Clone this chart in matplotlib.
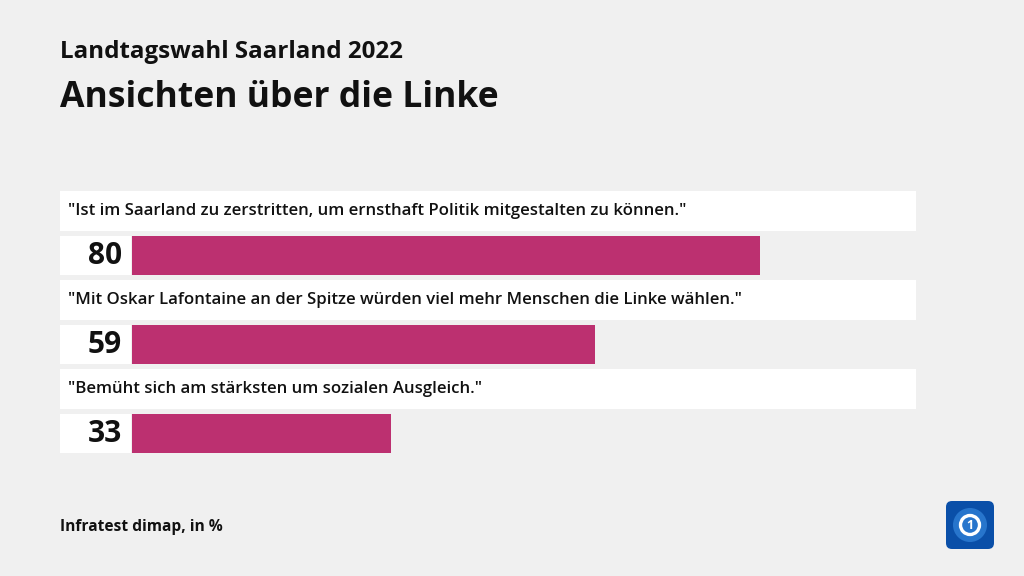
import matplotlib.pyplot as plt
from matplotlib.patches import Rectangle, FancyBboxPatch, Circle

plt.rcParams['font.family'] = ['Open Sans', 'DejaVu Sans']

# Daten
aussagen = ['"Ist im Saarland zu zerstritten, um ernsthaft Politik mitgestalten zu können."',
            '"Mit Oskar Lafontaine an der Spitze würden viel mehr Menschen die Linke wählen."',
            '"Bemüht sich am stärksten um sozialen Ausgleich."']
werte = [80, 59, 33]

titel = 'Ansichten über die Linke'
untertitel = 'Landtagswahl Saarland 2022'
quelle = 'Infratest dimap, in %'

bg = '#f0f0f0'
farbe = '#bc3070'

W, H = 1024, 576
fig = plt.figure(figsize=(W / 100, H / 100), dpi=100, facecolor=bg)

# Hintergrund-Achse in Pixeln (Layout)
bgax = fig.add_axes([0, 0, 1, 1])
bgax.set_xlim(0, W)
bgax.set_ylim(H, 0)
bgax.axis('off')
bgax.set_facecolor(bg)

# Balken-Achse: x 0..100 von Pixel 132 bis 917
x0, x1 = 132, 917
ax = fig.add_axes([x0 / W, 0, (x1 - x0) / W, 1])
ax.set_xlim(0, 100)
ax.set_ylim(H, 0)
ax.axis('off')
ax.patch.set_alpha(0)

row0 = 255
pitch = 89
for i, (txt, v) in enumerate(zip(aussagen, werte)):
    yc = row0 + pitch * i
    # weisse Box fuer Aussage
    bgax.add_patch(Rectangle((60, yc - 64), 856, 40, facecolor='white', edgecolor='none'))
    bgax.text(68, yc - 44, txt, fontsize=12.1, fontweight='semibold', va='center', ha='left', color='#111111')
    # Zahlenbox
    bgax.add_patch(Rectangle((60, yc - 19.5), 71, 39, facecolor='white', edgecolor='none'))
    bgax.text(122, yc + 1, str(v), fontsize=21.5, fontweight='bold', va='center', ha='right', color='#111111')

ys = [row0 + pitch * i for i in range(len(werte))]
ax.barh(ys, werte, height=39, color=farbe, left=0)

# Titel
bgax.text(60, 52, untertitel, fontsize=17.4, fontweight='bold', va='center', ha='left', color='#111111')
bgax.text(60, 98, titel, fontsize=25.6, fontweight='bold', va='center', ha='left', color='#111111')
bgax.text(60, 527, quelle, fontsize=11.2, fontweight='bold', va='center', ha='left', color='#111111')

# Logo (vereinfacht)
bgax.add_patch(FancyBboxPatch((946, 501), 48, 48, boxstyle='round,pad=0,rounding_size=6',
                              facecolor='#0a4fa8', edgecolor='none'))
bgax.add_patch(Circle((970, 525), 17, facecolor='#2f7fd6', edgecolor='none', alpha=0.8))
bgax.add_patch(Circle((970, 525), 9.5, facecolor='none', edgecolor='white', linewidth=2.4))
bgax.text(970, 525.5, '1', fontsize=9, fontweight='bold', color='white', ha='center', va='center')

plt.savefig('out.png', dpi=100, facecolor=bg)
